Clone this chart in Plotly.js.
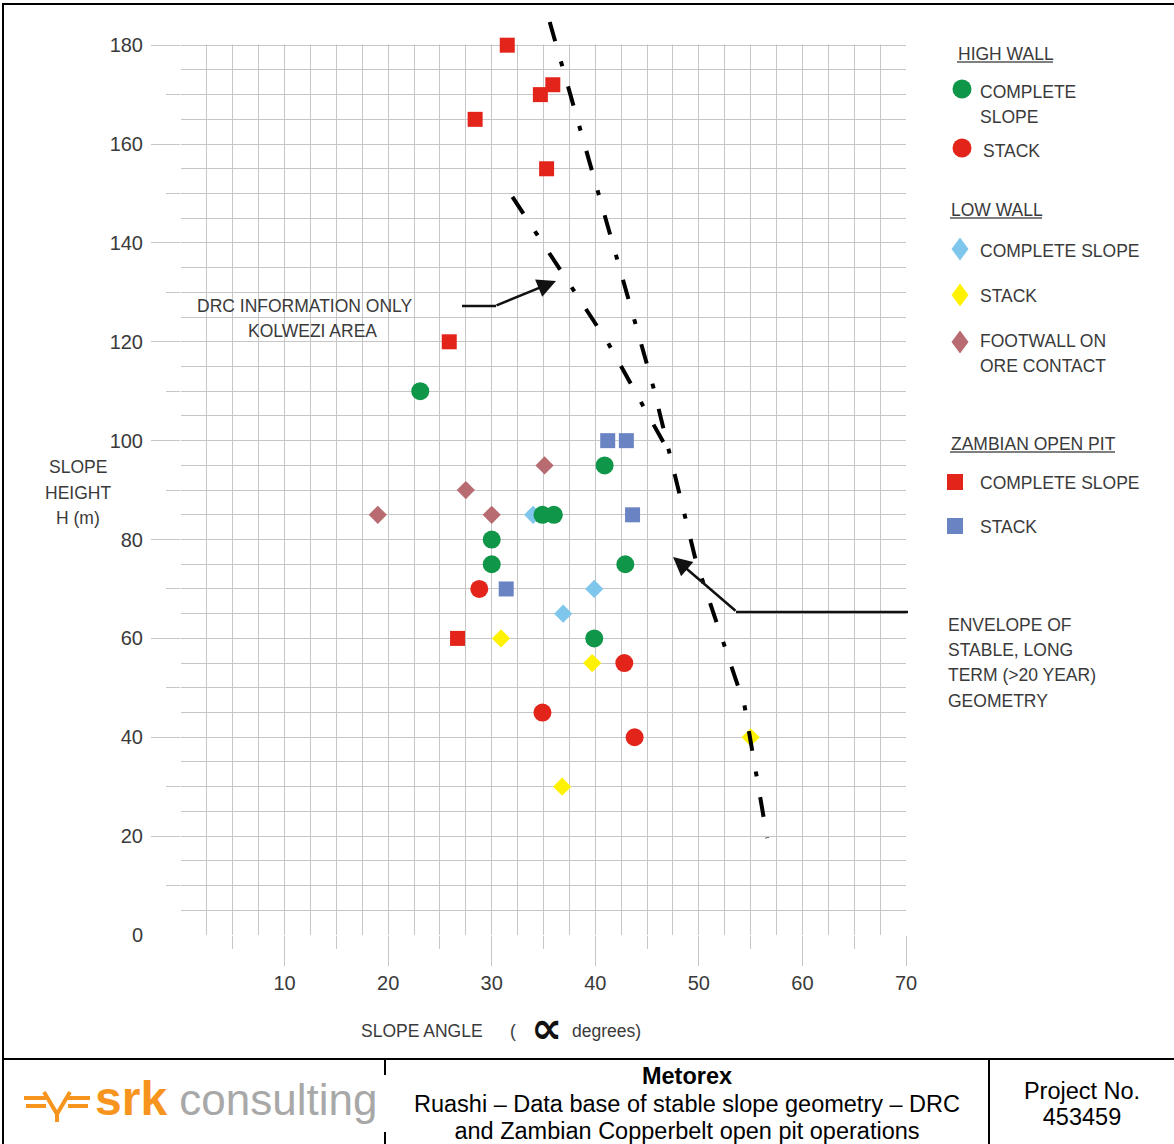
<!DOCTYPE html>
<html>
<head>
<meta charset="utf-8">
<script src="https://cdn.plot.ly/plotly-3.0.1.min.js"></script>
<style>
html,body{margin:0;padding:0;background:#fff;}
#page{position:relative;width:1174px;height:1144px;overflow:hidden;background:#fff;}
#chart{position:absolute;left:0;top:0;width:1174px;height:1144px;}
.ov{position:absolute;pointer-events:none;}
.bl{background:#000;}
.tb{font-family:"Liberation Sans",Arial,sans-serif;color:#000;font-size:23.5px;text-align:center;line-height:27px;white-space:nowrap;}
</style>
</head>
<body>
<div id="page">
  <div id="chart"></div>
  <!-- frame and title block -->
  <div class="ov bl" style="left:2px;top:3px;width:1172px;height:2px;"></div>
  <div class="ov bl" style="left:2px;top:3px;width:2px;height:1141px;"></div>
  <div class="ov bl" style="left:2px;top:1058px;width:1172px;height:2px;"></div>
  <div class="ov bl" style="left:988px;top:1058px;width:2px;height:86px;"></div>
  <div class="ov bl" style="left:384px;top:1060px;width:2px;height:15px;"></div>
  <div class="ov bl" style="left:384px;top:1132px;width:2px;height:12px;"></div>
  <div class="ov" style="left:20px;top:1078px;width:362px;height:50px;">
    <svg width="72" height="40" style="position:absolute;left:2px;top:8px;">
      <g stroke="#f7941d" stroke-width="4" fill="none" stroke-linecap="butt">
        <line x1="2" y1="12" x2="24" y2="12"/>
        <line x1="4" y1="20" x2="24" y2="20"/>
        <line x1="46" y1="12" x2="68" y2="12"/>
        <line x1="46" y1="20" x2="66" y2="20"/>
        <polyline points="22,6 35,28 48,6"/>
        <line x1="35" y1="24" x2="35" y2="36"/>
      </g>
    </svg>
    <div style="position:absolute;left:75px;top:-5px;font-family:'Liberation Sans',Arial,sans-serif;line-height:52px;white-space:nowrap;">
      <span style="color:#f7941d;font-weight:bold;font-size:48px;">srk</span><span style="color:#a8a8a8;font-size:44px;"> consulting</span>
    </div>
  </div>
  <div class="ov tb" style="left:386px;top:1063px;width:602px;">
    <div style="font-weight:bold;">Metorex</div>
    <div style="margin-top:1px;">Ruashi – Data base of stable slope geometry – DRC<br>and Zambian Copperbelt open pit operations</div>
  </div>
  <div class="ov tb" style="left:990px;top:1078px;width:184px;line-height:26px;">
    Project No.<br>453459
  </div>
</div>
<script>
// ---------------- DATA ----------------
// High wall - complete slope (green circles)
const hwCompleteX = [23.1, 40.9, 34.9, 36.0, 30.0, 30.0, 42.9, 39.9];
const hwCompleteY = [110, 95, 85, 85, 80, 75, 75, 60];
// High wall - stack (red circles)
const hwStackX = [28.8, 42.8, 34.9, 43.8];
const hwStackY = [70, 55, 45, 40];
// Low wall - complete slope (light blue diamonds)
const lwCompleteX = [34.0, 36.9, 39.9];
const lwCompleteY = [85, 65, 70];
// Low wall - stack (yellow diamonds)
const lwStackX = [30.9, 39.7, 36.8, 55.0];
const lwStackY = [60, 55, 30, 40];
// Low wall - footwall on ore contact (brown diamonds)
const footwallX = [19.0, 27.5, 30.0, 35.1];
const footwallY = [85, 90, 85, 95];
// Zambian open pit - complete slope (red squares)
const zamCompleteX = [31.5, 35.9, 34.7, 28.4, 35.3, 25.9, 26.7];
const zamCompleteY = [180, 172, 170, 165, 155, 120, 60];
// Zambian open pit - stack (blue squares)
const zamStackX = [41.2, 43.0, 43.6, 31.4];
const zamStackY = [100, 100, 85, 70];
// Envelope of stable long term geometry (right) and DRC / Kolwezi envelope (left)
const envelopeX = [35.6, 45.5, 49.7, 54.4, 56.6];
const envelopeY = [184.7, 111.7, 75.8, 46.5, 19.6];
const drcEnvelopeX = [32.0, 41.2, 47.1];
const drcEnvelopeY = [149.3, 119.9, 97.7];
// Axis ticks
const xTickVals = [10, 20, 30, 40, 50, 60, 70];
const xTickText = ['10', '20', '30', '40', '50', '60', '70'];
const xHalfTicks = [5, 15, 25, 35, 45, 55, 65];
const yTickVals = [0, 20, 40, 60, 80, 100, 120, 140, 160, 180];
const yTickText = ['0', '20', '40', '60', '80', '100', '120', '140', '160', '180'];
const yLongTicks = [20, 40, 60, 80, 100, 120, 140, 160, 180];
const yShortTicks = [10, 30, 50, 70, 90, 110, 130, 150, 170];
const xFineGrid = [0, 2.5, 7.5, 12.5, 17.5, 22.5, 27.5, 32.5, 37.5, 42.5, 47.5, 52.5, 57.5, 62.5, 67.5];

// ---------------- STYLE ----------------
const GREEN = '#0f9648', RED = '#e3241b', LBLUE = '#7ec6ec', YELLOW = '#fff200',
      BROWN = '#b86b70', BLUE = '#6a83c3';
const GRID = '#c6c6c6';
const TXT = '#3a3a3a';
const SANS = '"Liberation Sans", Arial, sans-serif';
const FS = 17.5;

// page-pixel -> paper helpers (layout positions only)
const L = 181, T = 18, PW = 725, PH = 917;
const px = v => (v - L) / PW;
const py = v => (T + PH - v) / PH;

function pts(x, y, color, symbol, size) {
  return {x: x, y: y, type: 'scatter', mode: 'markers', hoverinfo: 'skip',
          marker: {color: color, symbol: symbol, size: size, line: {width: 0}}};
}
const dashPat = '20px,21px,5px,21px';
const traces = [
  {x: [], y: [], xaxis: 'x2', yaxis: 'y2', type: 'scatter', mode: 'markers', hoverinfo: 'skip'},
  pts(footwallX, footwallY, BROWN, 'diamond', 14),
  pts(lwCompleteX, lwCompleteY, LBLUE, 'diamond', 14),
  pts(lwStackX, lwStackY, YELLOW, 'diamond', 14),
  pts(hwCompleteX, hwCompleteY, GREEN, 'circle', 18),
  pts(hwStackX, hwStackY, RED, 'circle', 18),
  pts(zamCompleteX, zamCompleteY, RED, 'square', 15),
  pts(zamStackX, zamStackY, BLUE, 'square', 15),
  {x: envelopeX, y: envelopeY, type: 'scatter', mode: 'lines', hoverinfo: 'skip',
   line: {color: '#000', width: 4, dash: dashPat}},
  {x: drcEnvelopeX, y: drcEnvelopeY, type: 'scatter', mode: 'lines', hoverinfo: 'skip',
   line: {color: '#000', width: 4, dash: dashPat}}
];

// text annotations
function txt(text, xLeft, yMid, opts) {
  opts = opts || {};
  return Object.assign({
    text: text, xref: 'paper', yref: 'paper', x: px(xLeft), y: py(yMid),
    xanchor: 'left', yanchor: 'middle', showarrow: false,
    font: {family: SANS, size: FS, color: TXT}
  }, opts);
}
function ctxt(text, xc, yMid, opts) {
  return txt(text, xc, yMid, Object.assign({xanchor: 'center'}, opts || {}));
}
const annotations = [
  txt('HIGH WALL', 956, 54),
  txt('COMPLETE', 978, 92),
  txt('SLOPE', 978, 117),
  txt('STACK', 981, 151),
  txt('LOW WALL', 949, 210),
  txt('COMPLETE SLOPE', 978, 251),
  txt('STACK', 978, 296),
  txt('FOOTWALL ON', 978, 341),
  txt('ORE CONTACT', 978, 366),
  txt('ZAMBIAN OPEN PIT', 949, 444),
  txt('COMPLETE SLOPE', 978, 483),
  txt('STACK', 978, 527),
  txt('ENVELOPE OF', 946, 625),
  txt('STABLE, LONG', 946, 650),
  txt('TERM (&gt;20 YEAR)', 946, 675),
  txt('GEOMETRY', 946, 701),
  txt('DRC INFORMATION ONLY', 195, 306),
  txt('KOLWEZI AREA', 246, 331),
  ctxt('SLOPE', 78, 467),
  ctxt('HEIGHT', 78, 493),
  ctxt('H (m)', 78, 518),
  txt('SLOPE ANGLE', 359, 1031),
  txt('(', 508, 1031),
  ctxt('<b>∝</b>', 546, 1027, {font: {family: 'DejaVu Sans, sans-serif', size: 44, color: '#111'}}),
  txt('degrees)', 570, 1031),
  // arrows
  {xref: 'paper', yref: 'paper', x: px(556), y: py(281), ax: 495 - 556, ay: 306 - 281,
   axref: 'pixel', ayref: 'pixel', text: '', showarrow: true, arrowhead: 2, arrowsize: 1.5,
   arrowwidth: 2.5, arrowcolor: '#111', standoff: 0},
  {xref: 'paper', yref: 'paper', x: px(673), y: py(557), ax: 737 - 673, ay: 612 - 557,
   axref: 'pixel', ayref: 'pixel', text: '', showarrow: true, arrowhead: 2, arrowsize: 1.5,
   arrowwidth: 2.5, arrowcolor: '#111', standoff: 0}
];

function pline(x0, y0, x1, y1, color, width) {
  return {type: 'line', xref: 'paper', yref: 'paper', x0: px(x0), y0: py(y0), x1: px(x1), y1: py(y1),
          line: {color: color, width: width}};
}
function pmark(type, cx, cy, w, h, color, path) {
  const s = {type: type, xref: 'paper', yref: 'paper', xsizemode: 'pixel', ysizemode: 'pixel',
             xanchor: px(cx), yanchor: py(cy), fillcolor: color, line: {width: 0}};
  if (type === 'path') { s.path = path; }
  else { s.x0 = -w / 2; s.x1 = w / 2; s.y0 = -h / 2; s.y1 = h / 2; }
  return s;
}
const dia = (w, h) => `M0,${h/2} L${w/2},0 L0,${-h/2} L${-w/2},0 Z`;
const shapes = [
  // white strip hiding vertical grid above 180
  {type: 'rect', xref: 'x', yref: 'y', x0: -1, x1: 71, y0: 180.15, y1: 190,
   fillcolor: '#fff', line: {width: 0}, layer: 'between'},
  // legend underlines
  pline(957, 62, 1053, 62, '#555', 1.5),
  pline(950, 218, 1042, 218, '#555', 1.5),
  pline(950, 452, 1115, 452, '#555', 1.5),
  // legend markers
  pmark('circle', 962, 89, 19, 19, GREEN),
  pmark('circle', 962, 148, 19, 19, RED),
  pmark('path', 960, 249, 0, 0, LBLUE, dia(17, 23)),
  pmark('path', 960, 295, 0, 0, YELLOW, dia(17, 23)),
  pmark('path', 960, 342, 0, 0, BROWN, dia(17, 23)),
  pmark('rect', 955, 482, 16, 16, RED),
  pmark('rect', 955, 526, 16, 16, BLUE),
  // arrow leader segments
  pline(462, 306, 496, 306, '#111', 2.5),
  pline(736, 612, 908, 612, '#111', 2.5)
];

const layout = {
  width: 1174, height: 1144,
  margin: {l: L, r: 1174 - L - PW, t: T, b: 1144 - T - PH, pad: 0},
  paper_bgcolor: 'rgba(0,0,0,0)', plot_bgcolor: '#fff',
  showlegend: false,
  font: {family: SANS, color: TXT},
  xaxis: {
    range: [0, 70], tickmode: 'array', tickvals: xTickVals, ticktext: xTickText,
    ticks: 'outside', ticklen: 30, tickcolor: GRID, tickwidth: 1,
    showgrid: true, gridcolor: GRID, gridwidth: 1, zeroline: false, showline: false,
    tickfont: {family: SANS, size: 20, color: TXT}, ticklabelstandoff: 0, fixedrange: true,
    minor: {tickmode: 'array', tickvals: xHalfTicks, ticks: 'outside', ticklen: 13,
            tickcolor: GRID, tickwidth: 1, showgrid: true, gridcolor: GRID, gridwidth: 1}
  },
  xaxis2: {
    overlaying: 'x', anchor: 'y2', range: [0, 70], tickmode: 'array', tickvals: xFineGrid,
    showticklabels: false, ticks: '', showgrid: true, gridcolor: GRID, gridwidth: 1,
    zeroline: false, showline: false, fixedrange: true
  },
  yaxis: {
    range: [0, 185.5], tickmode: 'array', tickvals: yTickVals, ticktext: yTickText,
    ticks: '', showgrid: true, gridcolor: GRID, gridwidth: 1, zeroline: false, showline: false,
    tickfont: {family: SANS, size: 20, color: TXT}, ticklabelstandoff: 37, fixedrange: true,
    minor: {tickmode: 'linear', tick0: 0, dtick: 5, ticks: '', showgrid: true,
            gridcolor: GRID, gridwidth: 1}
  },
  yaxis2: {
    overlaying: 'y', anchor: 'x2', side: 'left', range: [0, 185.5], tickmode: 'array',
    tickvals: yLongTicks, showticklabels: false, ticks: 'outside', ticklen: 29,
    tickcolor: GRID, tickwidth: 1, showgrid: false, zeroline: false, showline: false,
    fixedrange: true,
    minor: {tickmode: 'array', tickvals: yShortTicks, ticks: 'outside', ticklen: 14,
            tickcolor: GRID, tickwidth: 1, showgrid: false}
  },
  annotations: annotations,
  shapes: shapes
};

Plotly.newPlot('chart', traces, layout, {staticPlot: true, displayModeBar: false});
</script>
</body>
</html>
